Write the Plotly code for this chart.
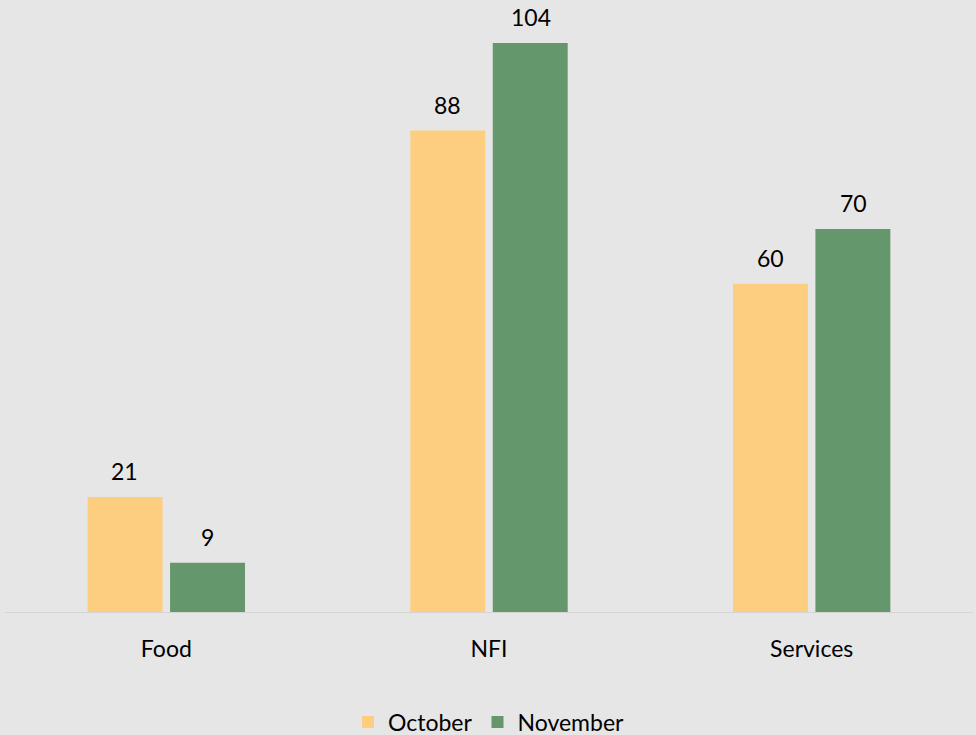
import plotly.graph_objects as go

categories = ["Food", "NFI", "Services"]
october = [21, 88, 60]
november = [9, 104, 70]

series_names = ["October", "November"]
series_values = [october, november]
series_colors = ["#FDCE80", "#64976B"]

FONT = "Lato"
BG = "#E7E6E6"

fig = go.Figure()
for name, vals, col in zip(series_names, series_values, series_colors):
    fig.add_trace(go.Bar(
        x=categories, y=vals, name=name,
        marker=dict(color=col, line=dict(width=0)),
    ))

# value labels above each bar
offsets = [-41.5, 41.5]
for vals, dx in zip(series_values, offsets):
    for cat, v in zip(categories, vals):
        fig.add_annotation(
            x=cat, y=v, text=str(v), showarrow=False,
            xshift=dx, yshift=26, yanchor="middle",
            font=dict(family=FONT, size=23, color="#000000"),
        )

fig.update_layout(
    width=976, height=735,
    margin=dict(l=5, r=3, t=10, b=123, autoexpand=False),
    paper_bgcolor=BG, plot_bgcolor=BG,
    barmode="group", bargap=0.489, bargroupgap=0.091,
    font=dict(family=FONT, size=23, color="#000000"),
    showlegend=True,
    legend=dict(
        orientation="h", x=0.5, xanchor="center",
        y=-0.183, yanchor="middle",
        font=dict(family=FONT, size=23, color="#000000"),
        bgcolor="rgba(0,0,0,0)",
    ),
    xaxis=dict(
        showgrid=False, showline=True, linecolor="#D4D4D4", linewidth=1,
        ticks="", ticklabelstandoff=16, automargin=False,
        tickfont=dict(family=FONT, size=23, color="#000000"),
    ),
    yaxis=dict(
        range=[0, 110.05], showgrid=False, showticklabels=False,
        zeroline=False, showline=False, ticks="", automargin=False,
    ),
)

fig.write_html("out.html")
